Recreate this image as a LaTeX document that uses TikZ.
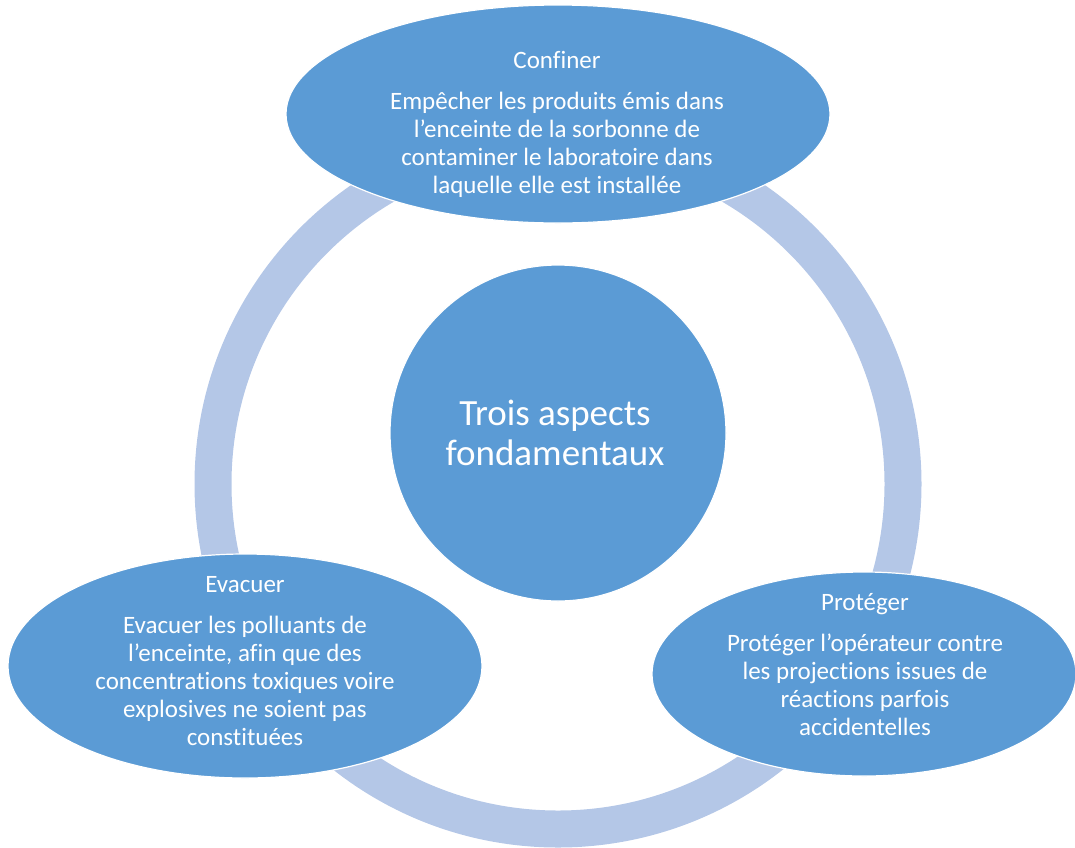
\documentclass[tikz,border=0pt]{standalone}
\usepackage{fontspec}
\setmainfont[Ligatures=NoCommon]{Carlito}
\usetikzlibrary{shapes.geometric}
\definecolor{blobblue}{RGB}{91,155,213}
\definecolor{ringblue}{RGB}{180,199,231}
\begin{document}
\begin{tikzpicture}[x=1pt,y=-1pt,
  bubble/.style={ellipse, fill=blobblue, draw=white, line width=1.2pt, inner sep=0pt, outer sep=0pt},
  lbl/.style={text=white, align=center, font=\fontsize{25pt}{28pt}\selectfont, inner sep=0pt},
  biglbl/.style={text=white, align=center, font=\fontsize{37pt}{40pt}\selectfont, inner sep=0pt}]
\useasboundingbox (0,0) rectangle (1075,847);
% ring
\node[circle, draw=ringblue, line width=37pt, minimum size=690pt, inner sep=0pt] (ring) at (558,484) {};
% ellipses
\node[bubble, minimum width=544pt, minimum height=218pt] (conf) at (558,114) {};
\node[bubble, minimum width=474pt, minimum height=224pt] (evac) at (245,666) {};
\node[bubble, minimum width=424pt, minimum height=204pt] (prot) at (864,674) {};
\node[circle, fill=blobblue, draw=white, line width=1.2pt, minimum size=336pt, inner sep=0pt] (core) at (558,433) {};
% texts
\node[lbl] (conft) at (557,124.5) {Confiner\\[13pt]Empêcher les produits émis dans\\l’enceinte de la sorbonne de\\contaminer le laboratoire dans\\laquelle elle est installée};
\node[lbl] (evact) at (245,661) {Evacuer\\[13pt]Evacuer les polluants de\\l’enceinte, afin que des\\concentrations toxiques voire\\explosives ne soient pas\\constituées};
\node[lbl] (prott) at (865,664.5) {Protéger\\[13pt]Protéger l’opérateur contre\\les projections issues de\\réactions parfois\\accidentelles};
\node[biglbl] (coret) at (555,433) {Trois aspects\\fondamentaux};
\end{tikzpicture}
\end{document}
